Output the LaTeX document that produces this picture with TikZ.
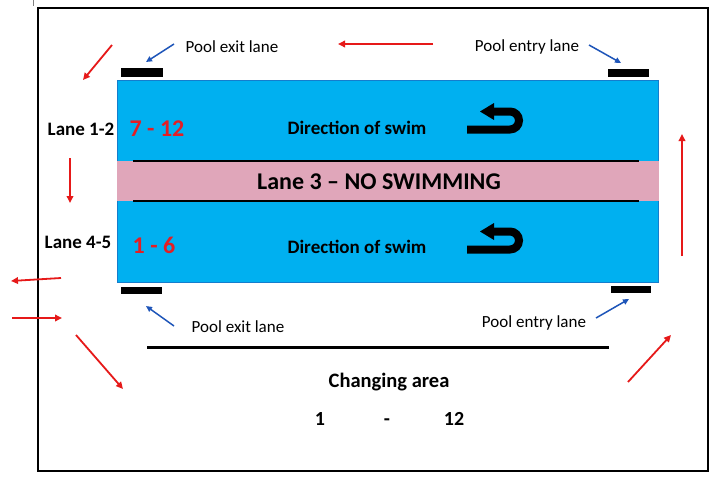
\documentclass[tikz,border=0pt]{standalone}
\usepackage{fontspec}
\setmainfont{Carlito}
\usetikzlibrary{arrows.meta}
\definecolor{poolblue}{RGB}{0,176,240}
\definecolor{pooledge}{RGB}{20,125,205}
\definecolor{lanepink}{RGB}{224,166,186}
\definecolor{arrowred}{RGB}{230,25,25}
\definecolor{arrowblue}{RGB}{30,85,185}
\definecolor{numred}{RGB}{228,30,36}
\tikzset{
  redarrow/.style={draw=arrowred, line width=1.8pt, -{Triangle[length=7pt,width=6.5pt]}},
  bluearrow/.style={draw=arrowblue, line width=1.5pt, -{Triangle[length=6pt,width=5.5pt]}},
  lanebar/.style={fill=black},
  smalltxt/.style={inner sep=0pt, font=\fontsize{17}{20}\selectfont},
  boldtxt/.style={inner sep=0pt, font=\fontsize{19}{22}\selectfont\bfseries},
  numtxt/.style={inner sep=0pt, text=numred, font=\fontsize{24}{28}\selectfont\bfseries},
  chgtxt/.style={inner sep=0pt, anchor=base, font=\fontsize{20}{24}\selectfont\bfseries},
  uturnbar/.style={line width=8pt, line cap=butt, draw=black}
}
\begin{document}
\begin{tikzpicture}[x=1pt,y=-1pt]
\useasboundingbox (0,0) rectangle (720,485);
\fill[white] (0,0) rectangle (720,485);
% small tick and frame
\draw[gray, line width=0.8pt] (33,0) -- (33,6);
\draw[black, line width=1.2pt] (38,8) rectangle (708,471);
% pool
\fill[poolblue] (117,80) rectangle (658,282);
\draw[pooledge, line width=0.8pt] (117,80) rectangle (658,282);
\fill[lanepink] (117,161) rectangle (659,201);
\draw[black, line width=2pt] (133,161) -- (639,161);
\draw[black, line width=2pt] (133,201) -- (639,201);
% lane bars
\fill[lanebar] (121,68) rectangle (163,77);
\fill[lanebar] (608,69) rectangle (649,77);
\fill[lanebar] (121,287) rectangle (162,294);
\fill[lanebar] (611,286) rectangle (651,293);
% changing area line
\draw[black, line width=3pt] (147,347) -- (609,347);
% U-turn arrows
\foreach \dy in {0,120}{
  \begin{scope}[shift={(0,\dy)}]
    \draw[uturnbar] (492,111.5) -- (510,111.5) arc (-90:90:9) -- (467,129.5);
    \fill[black] (480,111.5) -- (494,103) -- (494,120) -- cycle;
  \end{scope}
}
% texts
\node[smalltxt] (exitT) at (232,47) {Pool exit lane};
\node[smalltxt] (entryT) at (527,47) {Pool entry lane};
\node[boldtxt] (lane12) at (81,129.5) {Lane 1-2};
\node[numtxt] (n712) at (157,128.5) {7 - 12};
\node[boldtxt] (dir1) at (357,128) {Direction of swim};
\node[inner sep=0pt, font=\fontsize{24}{28}\selectfont\bfseries] (lane3) at (379,182) {Lane 3 – NO SWIMMING};
\node[boldtxt] (lane45) at (78,242) {Lane 4-5};
\node[numtxt] (n16) at (154,245) {1 - 6};
\node[boldtxt] (dir2) at (357,247) {Direction of swim};
\node[smalltxt] (exitB) at (238,327) {Pool exit lane};
\node[smalltxt] (entryB) at (534,323) {Pool entry lane};
\node[inner sep=0pt, font=\fontsize{20.5}{24}\selectfont\bfseries] (chg) at (389,382) {Changing area};
\node[chgtxt] (c1) at (320,425) {1};
\node[chgtxt] (cdash) at (387,425) {-};
\node[chgtxt] (c12) at (454,425) {12};
% arrow end coordinates
\coordinate (r1a) at (112,45); \coordinate (r1b) at (83,80);
\coordinate (r2a) at (433,44); \coordinate (r2b) at (338,44);
\coordinate (r3a) at (70,158); \coordinate (r3b) at (70,203);
\coordinate (r4a) at (61,278); \coordinate (r4b) at (11,281);
\coordinate (r5a) at (12,318); \coordinate (r5b) at (62,318);
\coordinate (r6a) at (76,335); \coordinate (r6b) at (123,389);
\coordinate (r7a) at (682,256); \coordinate (r7b) at (682,134);
\coordinate (r8a) at (628,382); \coordinate (r8b) at (671,335);
\coordinate (b1a) at (174,44); \coordinate (b1b) at (146,62);
\coordinate (b2a) at (589,45); \coordinate (b2b) at (621,63);
\coordinate (b3a) at (174,326); \coordinate (b3b) at (146,306);
\coordinate (b4a) at (596,318); \coordinate (b4b) at (629,299);
\foreach \i in {1,...,8}{ \draw[redarrow] (r\i a) -- (r\i b); }
\foreach \i in {1,...,4}{ \draw[bluearrow] (b\i a) -- (b\i b); }
\end{tikzpicture}
\end{document}
